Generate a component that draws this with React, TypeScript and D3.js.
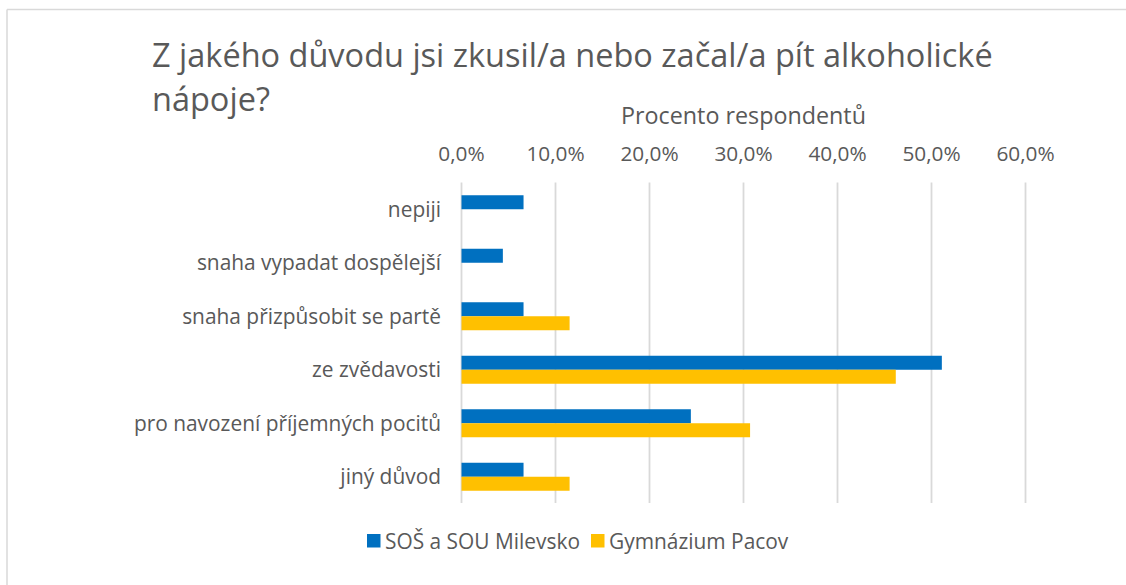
import React from "react";
import * as d3 from "d3";

const categories = [
  "nepiji",
  "snaha vypadat dospělejší",
  "snaha přizpůsobit se partě",
  "ze zvědavosti",
  "pro navození příjemných pocitů",
  "jiný důvod",
];
const seriesNames = ["SOŠ a SOU Milevsko", "Gymnázium Pacov"];
const milevsko = [6.6, 4.4, 6.6, 51.1, 24.4, 6.6];
const pacov = [0, 0, 11.5, 46.2, 30.7, 11.5];
const tickValues = [0, 10, 20, 30, 40, 50, 60];
const colors = ["#0070C0", "#FFC000"];

const W = 1126;
const H = 585;
const FONT = "'Open Sans', 'Noto Sans', sans-serif";
const TEXT = "#595959";

export default function App() {
  const x = d3.scaleLinear().domain([0, 60]).range([461.5, 1025.5]);
  const y = d3.scaleBand().domain(categories).range([182.5, 503.5]).paddingInner(0).paddingOuter(0);
  const barH = 14;
  const series = [milevsko, pacov];
  const fmt = (v: number) => d3.format(".1f")(v).replace(".", ",") + "%";

  return (
    <div style={{ position: "fixed", left: 0, top: 0 }}>
      <svg width={W} height={H} style={{ display: "block", background: "#fff" }} fontFamily={FONT}>
        <rect x={0} y={0} width={W} height={H} fill="#fff" />
        <line x1={7} x2={W} y1={9.5} y2={9.5} stroke="#d9d9d9" strokeWidth={1.5} />
        <line x1={7} x2={7} y1={9.5} y2={H} stroke="#d9d9d9" strokeWidth={1.5} />

        <text x={152} y={67} fontSize={32.5} fill={TEXT}>
          Z jakého důvodu jsi zkusil/a nebo začal/a pít alkoholické
        </text>
        <text x={152} y={111} fontSize={32.5} fill={TEXT}>
          nápoje?
        </text>

        <text x={(x(0) + x(60)) / 2} y={124} fontSize={23.3} fill={TEXT} textAnchor="middle">
          Procento respondentů
        </text>

        {tickValues.map((t) => (
          <g key={t}>
            <line x1={x(t)} x2={x(t)} y1={182.5} y2={503} stroke="#d9d9d9" strokeWidth={1.8} />
            <text x={x(t)} y={161} fontSize={20.8} fill={TEXT} textAnchor="middle">
              {fmt(t)}
            </text>
          </g>
        ))}

        {categories.map((c, i) => {
          const cy = (y(c) as number) + y.bandwidth() / 2;
          return (
            <g key={c}>
              <text x={441} y={cy} dy="0.35em" fontSize={20.9} fill={TEXT} textAnchor="end">
                {c}
              </text>
              {series.map((s, si) =>
                s[i] > 0 ? (
                  <rect
                    key={si}
                    x={x(0)}
                    y={cy - barH + si * barH}
                    width={x(s[i]) - x(0)}
                    height={barH}
                    fill={colors[si]}
                  />
                ) : null
              )}
            </g>
          );
        })}

        <g>
          <rect x={367} y={534} width={13.5} height={13.5} fill={colors[0]} />
          <text x={385} y={548.5} fontSize={20.9} fill={TEXT}>
            {seriesNames[0]}
          </text>
          <rect x={591} y={534} width={13.5} height={13.5} fill={colors[1]} />
          <text x={609} y={548.5} fontSize={20.9} fill={TEXT}>
            {seriesNames[1]}
          </text>
        </g>
      </svg>
    </div>
  );
}
